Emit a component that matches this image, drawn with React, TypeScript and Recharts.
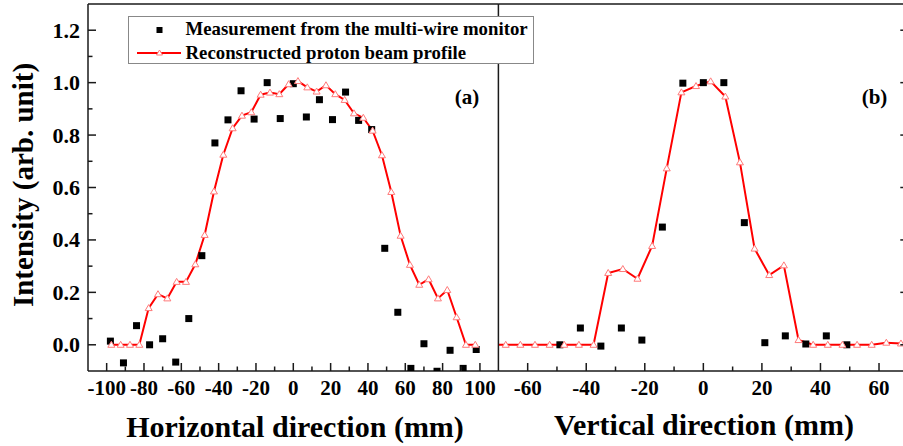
import React from "react";
import {
  ComposedChart,
  Line,
  Scatter,
  XAxis,
  YAxis,
  Legend,
} from "recharts";

// multi-wire monitor, 7 mm pitch
const hMeasX = [-98, -91, -84, -77, -70, -63, -56, -49, -42, -35, -28, -21, -14, -7, 0, 7, 14, 21, 28, 35, 42, 49, 56, 63, 70, 77, 84, 91, 98];
const hMeasY = [0.014, -0.069, 0.073, 0.0, 0.023, -0.066, 0.1, 0.34, 0.77, 0.858, 0.969, 0.861, 1.0, 0.863, 0.996, 0.869, 0.935, 0.859, 0.964, 0.856, 0.821, 0.368, 0.124, -0.09, 0.004, -0.101, -0.021, -0.09, -0.018];

const vMeasX = [-49, -42, -35, -28, -21, -14, -7, 0, 7, 14, 21, 28, 35, 42, 49];
const vMeasY = [0.0, 0.064, -0.005, 0.064, 0.018, 0.449, 0.998, 1.0, 1.0, 0.466, 0.008, 0.034, 0.003, 0.034, 0.0];

// reconstructed profile, 5 mm bins
const hReconX = [-97.5, -92.5, -87.5, -82.5, -77.5, -72.5, -67.5, -62.5, -57.5, -52.5, -47.5, -42.5, -37.5, -32.5, -27.5, -22.5, -17.5, -12.5, -7.5, -2.5, 2.5, 7.5, 12.5, 17.5, 22.5, 27.5, 32.5, 37.5, 42.5, 47.5, 52.5, 57.5, 62.5, 67.5, 72.5, 77.5, 82.5, 87.5, 92.5, 97.5];
const hReconY = [0, 0, 0, 0, 0.14, 0.193, 0.177, 0.24, 0.24, 0.307, 0.419, 0.585, 0.725, 0.826, 0.874, 0.887, 0.954, 0.962, 0.956, 0.994, 1.006, 0.982, 0.966, 0.99, 0.956, 0.934, 0.883, 0.866, 0.817, 0.723, 0.583, 0.416, 0.305, 0.229, 0.25, 0.177, 0.209, 0.105, 0, 0];

const vReconX = [-72.5, -67.5, -62.5, -57.5, -52.5, -47.5, -42.5, -37.5, -32.5, -27.5, -22.5, -17.5, -12.5, -7.5, -2.5, 2.5, 7.5, 12.5, 17.5, 22.5, 27.5, 32.5, 37.5, 42.5, 47.5, 52.5, 57.5, 62.5, 67.5];
const vReconY = [0, 0, 0, 0, 0, 0, 0, 0, 0.274, 0.289, 0.252, 0.377, 0.673, 0.963, 0.987, 1.005, 0.947, 0.696, 0.367, 0.266, 0.303, 0.018, 0, 0, 0, 0, 0, 0.008, 0.005];

const hTicks = [-100, -90, -80, -70, -60, -50, -40, -30, -20, -10, 0, 10, 20, 30, 40, 50, 60, 70, 80, 90, 100];
const vTicks = [-60, -50, -40, -30, -20, -10, 0, 10, 20, 30, 40, 50, 60];
const yTicks = [0, 0.1, 0.2, 0.3, 0.4, 0.5, 0.6, 0.7, 0.8, 0.9, 1.0, 1.1, 1.2];

const MEAS_NAME = "Measurement from the multi-wire monitor";
const RECON_NAME = "Reconstructed proton beam profile";

const FONT = "'Liberation Serif', 'Times New Roman', Times, serif";
const AXIS = "#1a1a1a";
const RED = "#ff0000";

const zip = (xs: number[], ys: number[]) => xs.map((x, i) => ({ x, y: ys[i] }));

const hMeas = zip(hMeasX, hMeasY);
const vMeas = zip(vMeasX, vMeasY);
const hRecon = zip(hReconX, hReconY);
const vRecon = zip(vReconX, vReconY);

const isMajorX = (v: number) => v % 20 === 0;
const isMajorY = (v: number) => Math.round(v * 10) % 2 === 0;

const BottomTick = ({ x, y, payload }: any) => {
  const v = payload.value;
  const major = isMajorX(v);
  return (
    <g>
      <line x1={x} x2={x} y1={y} y2={y - (major ? 8 : 4.5)} stroke={AXIS} strokeWidth={1.5} />
      {major && (
        <text x={x} y={y + 24} textAnchor="middle" fontFamily={FONT} fontWeight="bold" fontSize={21} fill="#000">
          {v}
        </text>
      )}
    </g>
  );
};

const TopTick = ({ x, y, payload }: any) => {
  const major = isMajorX(payload.value);
  return <line x1={x} x2={x} y1={y} y2={y + (major ? 8 : 4.5)} stroke={AXIS} strokeWidth={1.5} />;
};

const LeftTick = ({ x, y, payload }: any) => {
  const v = payload.value;
  const major = isMajorY(v);
  return (
    <g>
      <line x1={x} x2={x + (major ? 8 : 4.5)} y1={y} y2={y} stroke={AXIS} strokeWidth={1.5} />
      {major && (
        <text x={x - 8} y={y + 7.5} textAnchor="end" fontFamily={FONT} fontWeight="bold" fontSize={22} fill="#000">
          {v.toFixed(1)}
        </text>
      )}
    </g>
  );
};

const RightTick = ({ x, y, payload }: any) => {
  const major = isMajorY(payload.value);
  return <line x1={x - (major ? 8 : 4.5)} x2={x} y1={y} y2={y} stroke={AXIS} strokeWidth={1.5} />;
};

const SquareShape = ({ cx, cy }: any) => (
  <rect x={cx - 3.5} y={cy - 3.5} width={7} height={7} fill="#000" />
);

const TriangleDot = ({ cx, cy, index }: any) => (
  <polygon
    key={`tri-${index}`}
    points={`${cx},${cy - 3.5} ${cx - 3.5},${cy + 2.5} ${cx + 3.5},${cy + 2.5}`}
    fill="#fff"
    stroke="#ff7a7a"
    strokeWidth={1}
  />
);

const LegendBox = () => (
  <svg width={406} height={48} style={{ display: "block" }}>
    <rect x={0.5} y={0.5} width={405} height={47} fill="#fff" stroke="#888" strokeWidth={1} />
    <rect x={28.5} y={11} width={6} height={6} fill="#000" />
    <text x={57.5} y={19} fontFamily={FONT} fontWeight="bold" fontSize={18.8} fill="#000">
      {MEAS_NAME}
    </text>
    <line x1={9} x2={53} y1={37} y2={37} stroke={RED} strokeWidth={2} />
    <polygon points="31.5,34 28.5,39 34.5,39" fill="#fff" stroke="#ff7a7a" strokeWidth={1} />
    <text x={57.5} y={42.5} fontFamily={FONT} fontWeight="bold" fontSize={18.8} fill="#000">
      {RECON_NAME}
    </text>
  </svg>
);

const titleStyle = {
  fontFamily: FONT,
  fontWeight: "bold" as const,
  fill: "#000",
};

const axisLine = { stroke: AXIS, strokeWidth: 1.5 };

function HorizontalPanel() {
  return (
    <ComposedChart width={499} height={446} margin={{ top: 3, right: 0.4, bottom: 45, left: 28 }}>
      <XAxis
        type="number"
        dataKey="x"
        domain={[-110, 110]}
        ticks={hTicks}
        interval={0}
        allowDataOverflow
        height={30}
        tickSize={0}
        tickMargin={0}
        tickLine={false}
        axisLine={axisLine}
        tick={<BottomTick />}
      />
      <XAxis
        xAxisId="top"
        orientation="top"
        type="number"
        domain={[-110, 110]}
        ticks={hTicks}
        interval={0}
        allowDataOverflow
        height={1}
        tickSize={0}
        tickMargin={0}
        tickLine={false}
        axisLine={axisLine}
        tick={<TopTick />}
      />
      <YAxis
        type="number"
        domain={[-0.1, 1.3]}
        ticks={yTicks}
        interval={0}
        allowDataOverflow
        width={60}
        tickSize={0}
        tickMargin={0}
        tickLine={false}
        axisLine={axisLine}
        tick={<LeftTick />}
      />
      <Scatter
        name={MEAS_NAME}
        data={hMeas}
        dataKey="y"
        shape={<SquareShape />}
        isAnimationActive={false}
      />
      <Line
        name={RECON_NAME}
        data={hRecon}
        dataKey="y"
        type="linear"
        stroke={RED}
        strokeWidth={2}
        dot={<TriangleDot />}
        activeDot={false}
        isAnimationActive={false}
      />
      <Legend
        layout="horizontal"
        verticalAlign="middle"
        align="center"
        wrapperStyle={{ left: 128, top: 16, width: 406, height: 48 }}
        content={() => <LegendBox />}
      />
      <text x={467} y={104} textAnchor="middle" fontSize={21} {...titleStyle}>
        (a)
      </text>
      <text x={295} y={437} textAnchor="middle" fontSize={30} {...titleStyle}>
        Horizontal direction (mm)
      </text>
      <text x={33} y={185} textAnchor="middle" fontSize={29} transform="rotate(-90 33 185)" {...titleStyle}>
        Intensity (arb. unit)
      </text>
    </ComposedChart>
  );
}

function VerticalPanel() {
  return (
    <ComposedChart width={912} height={446} margin={{ top: 3, right: 2.7, bottom: 45, left: 497.4 }}>
      <XAxis
        type="number"
        dataKey="x"
        domain={[-70, 70]}
        ticks={vTicks}
        interval={0}
        allowDataOverflow
        height={30}
        tickSize={0}
        tickMargin={0}
        tickLine={false}
        axisLine={axisLine}
        tick={<BottomTick />}
      />
      <XAxis
        xAxisId="top"
        orientation="top"
        type="number"
        domain={[-70, 70]}
        ticks={vTicks}
        interval={0}
        allowDataOverflow
        height={1}
        tickSize={0}
        tickMargin={0}
        tickLine={false}
        axisLine={axisLine}
        tick={<TopTick />}
      />
      <YAxis
        type="number"
        domain={[-0.1, 1.3]}
        ticks={yTicks}
        allowDataOverflow
        width={1}
        tickLine={false}
        axisLine={axisLine}
        tick={false}
      />
      <YAxis
        yAxisId="right"
        orientation="right"
        type="number"
        domain={[-0.1, 1.3]}
        ticks={yTicks}
        interval={0}
        allowDataOverflow
        width={1}
        tickSize={0}
        tickMargin={0}
        tickLine={false}
        axisLine={axisLine}
        tick={<RightTick />}
      />
      <Scatter
        name={MEAS_NAME}
        data={vMeas}
        dataKey="y"
        shape={<SquareShape />}
        isAnimationActive={false}
      />
      <Line
        name={RECON_NAME}
        data={vRecon}
        dataKey="y"
        type="linear"
        stroke={RED}
        strokeWidth={2}
        dot={<TriangleDot />}
        activeDot={false}
        isAnimationActive={false}
      />
      <text x={874.5} y={104} textAnchor="middle" fontSize={21} {...titleStyle}>
        (b)
      </text>
      <text x={704} y={435} textAnchor="middle" fontSize={30} {...titleStyle}>
        Vertical direction (mm)
      </text>
    </ComposedChart>
  );
}

export default function App() {
  return (
    <div
      style={{
        position: "absolute",
        left: 0,
        top: 0,
        width: 903,
        height: 446,
        overflow: "hidden",
        background: "#fff",
      }}
    >
      <div style={{ position: "absolute", left: 0, top: 0 }}>
        <VerticalPanel />
      </div>
      <div style={{ position: "absolute", left: 0, top: 0 }}>
        <HorizontalPanel />
      </div>
    </div>
  );
}
